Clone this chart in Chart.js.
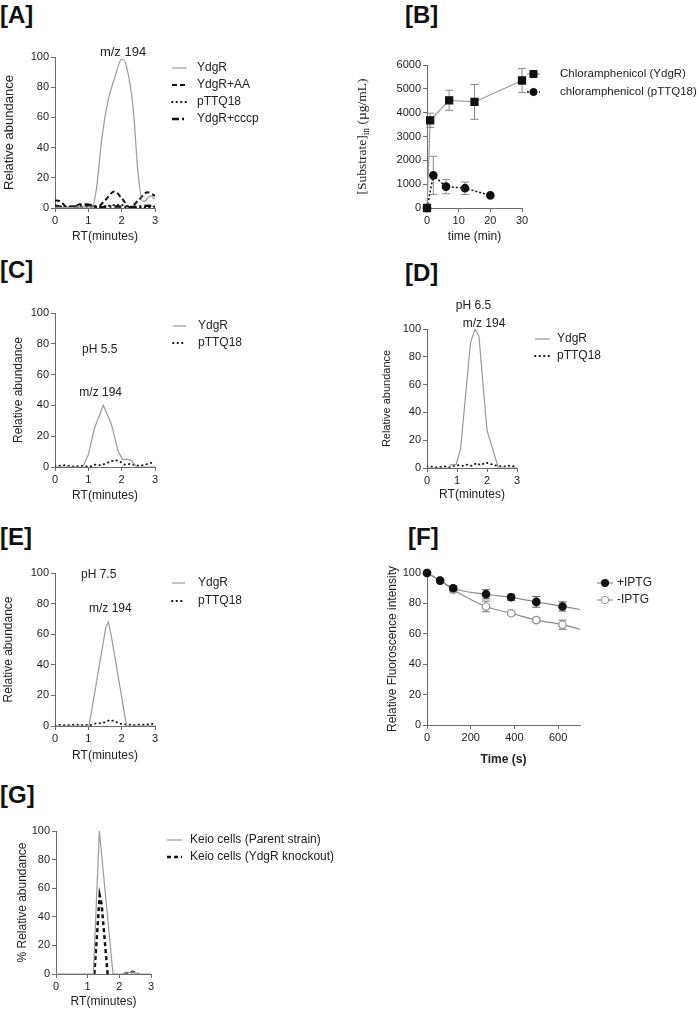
<!DOCTYPE html>
<html>
<head>
<meta charset="utf-8">
<script src="https://cdn.jsdelivr.net/npm/chart.js@4.4.1/dist/chart.umd.min.js"></script>
<style>
  body { margin: 0; background: #fff; width: 700px; height: 1010px; position: relative; overflow: hidden;
         font-family: "Liberation Sans", Arial, sans-serif; }
  canvas { position: absolute; left: 0; top: 0; }
  .tag { position: absolute; font-weight: bold; font-size: 24px; line-height: 24px; color: #111; }
</style>
</head>
<body>
<div class="tag" style="left:0px;top:3px">[A]</div>
<div class="tag" style="left:405px;top:3px">[B]</div>
<div class="tag" style="left:0px;top:258px">[C]</div>
<div class="tag" style="left:405px;top:261px">[D]</div>
<div class="tag" style="left:0px;top:525px">[E]</div>
<div class="tag" style="left:408px;top:525px">[F]</div>
<div class="tag" style="left:0px;top:783px">[G]</div>

<canvas id="chartA" width="700" height="1010"></canvas>
<canvas id="chartB" width="700" height="1010"></canvas>
<canvas id="chartC" width="700" height="1010"></canvas>
<canvas id="chartD" width="700" height="1010"></canvas>
<canvas id="chartE" width="700" height="1010"></canvas>
<canvas id="chartF" width="700" height="1010"></canvas>
<canvas id="chartG" width="700" height="1010"></canvas>

<script>
// ---- panel A: m/z 194 chromatograms
const aYdgRRt = [0, 0.3, 0.6, 0.9, 1.12, 1.25, 1.4, 1.57, 1.8, 2.0, 2.13, 2.35, 2.48, 2.62, 2.72, 2.85, 3.0];
const aYdgR   = [0.5, 0.3, 0.5, 0.8, 0.5, 14, 45, 69, 87, 98.5, 95, 65, 26, 4.5, 5, 8, 6];
const aAART   = [0, 0.15, 0.35, 0.55, 0.75, 0.95, 1.1, 1.25, 1.5, 1.78, 2.0, 2.25, 2.5, 2.78, 3.0];
const aAA     = [5, 4.5, 1, 1, 2.5, 2.5, 2, 0.5, 5, 11, 6.5, 0.5, 5, 10.5, 8];
const aPtRt   = [0, 0.3, 0.6, 0.9, 1.2, 1.5, 1.8, 2.0, 2.2, 2.5, 2.8, 3.0];
const aPttq   = [0.3, 0.5, 0.3, 0.8, 0.5, 1, 2, 2, 1, 0.5, 0.5, 1];
const aCcRt   = [0, 0.3, 0.6, 0.9, 1.1, 1.3, 1.6, 1.9, 2.2, 2.5, 2.8, 3.0];
const aCccp   = [1.5, 0.5, 1, 1.5, 2, 0.5, 1, 1, 0.5, 1, 1.5, 1];

// ---- panel B: uptake time course
const bYdgRTime = [0, 1, 7, 15, 30];
const bYdgR     = [0, 3680, 4520, 4450, 5350];
const bYdgRErr  = [0, 300, 420, 730, 500];
const bPtTime   = [0, 2, 6, 12, 20];
const bPttq     = [0, 1370, 900, 830, 530];
const bPttqErr  = [0, 800, 300, 260, 0];

// ---- panel C: pH 5.5
const cYdgRRt = [0, 0.83, 1.0, 1.18, 1.45, 1.69, 1.89, 2.02, 2.2, 2.3, 2.45, 3.0];
const cYdgR   = [0, 0, 8, 25, 40, 28, 10.5, 5, 5, 4, 0, 0];
const noiseRt = [0, 0.15, 0.3, 0.45, 0.6, 0.75, 0.9, 1.05, 1.2, 1.35, 1.5, 1.65, 1.8, 1.95, 2.1, 2.25, 2.4, 2.55, 2.7, 2.85, 3.0];
const cPttq   = [0.5, 0.8, 1.2, 0.5, 0.3, 0.8, 0.5, 0.3, 1.5, 1.2, 2, 3.5, 4.5, 3.5, 1.5, 2, 1.2, 0.8, 1.5, 2.5, 3];

// ---- panel D: pH 6.5
const dYdgRRt = [0, 0.7, 0.8, 0.97, 1.12, 1.45, 1.6, 1.73, 2.0, 2.38, 3.0];
const dYdgR   = [0, 0, 2.5, 2.5, 14, 90, 100, 95, 27, 0, 0];
const dPttq   = [0.5, 1, 0.5, 0.8, 1.2, 0.5, 1.5, 2, 1.5, 2.5, 1.5, 3.5, 2, 4, 3, 2, 1.5, 1, 1.8, 1, 2.5];

// ---- panel E: pH 7.5
const eYdgRRt = [0, 1.02, 1.1, 1.52, 1.6, 1.68, 2.07, 2.15, 3.0];
const eYdgR   = [0, 0, 10, 64, 68, 60, 10, 0, 0];
const ePttq   = [0.3, 0.8, 0.5, 0.5, 1, 0.5, 0.8, 0.5, 1.5, 1.8, 2.5, 4, 3, 1.5, 1, 0.8, 0.5, 1, 0.8, 1.2, 1.5];

// ---- panel F: fluorescence
const fTime       = [0, 60, 120, 270, 385, 500, 620];
const fPlus       = [100, 95, 90, 86, 84, 81, 78];
const fPlusErr    = [0, 0, 1.5, 3, 2, 3.5, 3];
const fMinus      = [100, 95, 89, 78, 73.5, 69, 66];
const fMinusErr   = [0, 0, 1.5, 3.5, 1, 1.5, 3];
const fFitEndTime = 700;
const fPlusFitEnd = 76;
const fMinusFitEnd = 63;

// ---- panel G: Keio cells
const gParentRt = [0, 1.18, 1.37, 1.8, 2.1, 2.3, 2.42, 2.6, 3.0];
const gParent   = [0, 0, 100, 0, 0, 1, 1.5, 0, 0];
const gKoRt     = [1.21, 1.38, 1.44, 1.63, 1.64, 2.15, 2.3, 2.42, 2.5, 2.6];
const gKo       = [0, 55, 49, 0, null, 0, 0.8, 1.6, 1, 0];

const W = 700, H = 1010;
const AXIS = '#6b6b6b';
const GRAY = '#9a9a9a';
const FONT = '"Liberation Sans", Arial, sans-serif';

Chart.defaults.font.family = FONT;
Chart.defaults.color = '#222';

function pts(xs, ys) {
  return xs.map((x, i) => ({ x: x, y: ys[i] }));
}

// error bars drawn from dataset.errors through the scales
const errorBars = {
  id: 'errorBars',
  beforeDatasetsDraw(chart) {
    const { ctx, scales: { x, y } } = chart;
    chart.data.datasets.forEach(ds => {
      if (!ds.errors) return;
      ctx.save();
      ctx.strokeStyle = ds.errorColor || '#666';
      ctx.lineWidth = 1;
      ds.data.forEach((p, i) => {
        const e = ds.errors[i];
        if (!e) return;
        const px = x.getPixelForValue(p.x);
        const top = y.getPixelForValue(p.y + e);
        const bot = y.getPixelForValue(p.y - e);
        ctx.beginPath();
        ctx.moveTo(px, top); ctx.lineTo(px, bot);
        ctx.moveTo(px - 4, top); ctx.lineTo(px + 4, top);
        ctx.moveTo(px - 4, bot); ctx.lineTo(px + 4, bot);
        ctx.stroke();
      });
      ctx.restore();
    });
  }
};

// small text notes placed in data units
const notes = {
  id: 'notes',
  afterDatasetsDraw(chart, args, opts) {
    if (!opts.items) return;
    const { ctx, scales: { x, y } } = chart;
    ctx.save();
    ctx.fillStyle = '#222';
    ctx.textAlign = 'center';
    ctx.textBaseline = 'middle';
    ctx.font = (opts.size || 12) + 'px ' + FONT;
    opts.items.forEach(n => ctx.fillText(n.text, x.getPixelForValue(n.x), y.getPixelForValue(n.y)));
    ctx.restore();
  }
};

// legend to the right of the plot, like the Prism one
const sideLegend = {
  id: 'sideLegend',
  afterDraw(chart, args, opts) {
    if (!opts.items) return;
    const ctx = chart.ctx;
    opts.items.forEach((it, i) => {
      const ds = chart.data.datasets[it.ds];
      const yy = opts.y + i * opts.dy;
      ctx.save();
      ctx.strokeStyle = ds.borderColor;
      ctx.lineWidth = ds.borderWidth;
      ctx.lineCap = ds.borderCapStyle || 'butt';
      ctx.setLineDash(ds.borderDash || []);
      ctx.beginPath();
      ctx.moveTo(opts.x, yy);
      ctx.lineTo(opts.x + opts.len, yy);
      ctx.stroke();
      if (it.r) {
        ctx.setLineDash([]);
        ctx.fillStyle = ds.pointBackgroundColor;
        ctx.strokeStyle = ds.pointBorderColor;
        ctx.lineWidth = 1;
        Chart.helpers.drawPoint(ctx, { pointStyle: ds.pointStyle, radius: it.r, rotation: 0, borderWidth: 1 },
          opts.x + opts.len / 2, yy);
      }
      ctx.fillStyle = '#222';
      ctx.font = (opts.size || 12) + 'px ' + FONT;
      ctx.textAlign = 'left';
      ctx.textBaseline = 'middle';
      ctx.fillText(it.text, opts.textX, yy);
      ctx.restore();
    });
  }
};

// serif y title with a subscript for panel B
const richYTitle = {
  id: 'richYTitle',
  afterDraw(chart, args, opts) {
    if (!opts.x) return;
    const ctx = chart.ctx;
    const cy = (chart.chartArea.top + chart.chartArea.bottom) / 2;
    const big = '13.5px "Liberation Serif", "Times New Roman", serif';
    const small = '9.5px "Liberation Serif", "Times New Roman", serif';
    ctx.save();
    ctx.translate(opts.x, cy);
    ctx.rotate(-Math.PI / 2);
    ctx.fillStyle = '#222';
    ctx.textBaseline = 'middle';
    ctx.font = big;
    const w1 = ctx.measureText(opts.main).width;
    const w3 = ctx.measureText(opts.tail).width;
    ctx.font = small;
    const w2 = ctx.measureText(opts.sub).width;
    let x0 = -(w1 + w2 + w3) / 2;
    ctx.font = big;
    ctx.fillText(opts.main, x0, 0);
    ctx.font = small;
    ctx.fillText(opts.sub, x0 + w1, 4);
    ctx.font = big;
    ctx.fillText(opts.tail, x0 + w1 + w2, 0);
    ctx.restore();
  }
};

Chart.register(errorBars, notes, sideLegend, richYTitle);

function axis(a, dir, size) {
  return {
    type: 'linear',
    min: a.min,
    max: a.max,
    afterFit: s => { if (dir === 'x') s.height = size; else s.width = size; },
    border: { display: true, color: AXIS, width: 1 },
    grid: { drawOnChartArea: false, drawTicks: true, tickLength: 4, color: AXIS },
    ticks: {
      stepSize: a.step, includeBounds: false, autoSkip: false, maxRotation: 0, padding: 2,
      font: { size: 11 }, color: '#222', callback: v => String(v)
    },
    title: {
      display: !!a.title, text: a.title, padding: 0, color: '#222',
      font: { size: a.titleSize || 12, weight: a.bold ? 'bold' : 'normal' }
    }
  };
}

function makePanel(id, box, sc, datasets, plugins) {
  return new Chart(document.getElementById(id), {
    type: 'line',
    data: { datasets: datasets },
    options: {
      responsive: false,
      animation: false,
      events: [],
      layout: { padding: { left: box.left - box.yW, top: box.top, right: W - box.right, bottom: H - box.bottom - box.xH } },
      elements: { point: { radius: 0, hoverRadius: 0 }, line: { tension: 0 } },
      plugins: Object.assign({ legend: { display: false }, tooltip: { enabled: false } }, plugins),
      scales: { x: axis(sc.x, 'x', box.xH), y: axis(sc.y, 'y', box.yW) }
    }
  });
}

const solidGray = { borderColor: GRAY, borderWidth: 1.2 };
const dotted = { borderColor: '#111', borderWidth: 1.8, borderDash: [0.5, 4], borderCapStyle: 'round' };
const rtAxis = { min: 0, max: 3, step: 1, title: 'RT(minutes)' };

// A
makePanel('chartA', { left: 55, top: 57, right: 155, bottom: 208, yW: 53, xH: 36 },
  { x: rtAxis, y: { min: 0, max: 100, step: 20, title: 'Relative abundance', titleSize: 13 } },
  [
    Object.assign({ data: pts(aYdgRRt, aYdgR), cubicInterpolationMode: 'monotone' }, solidGray),
    { data: pts(aAART, aAA), borderColor: '#111', borderWidth: 2, borderDash: [5, 3], cubicInterpolationMode: 'monotone' },
    Object.assign({ data: pts(aPtRt, aPttq), cubicInterpolationMode: 'monotone' }, dotted),
    { data: pts(aCcRt, aCccp), borderColor: '#111', borderWidth: 2.5, borderDash: [7, 3, 2, 3], cubicInterpolationMode: 'monotone' }
  ],
  {
    notes: { size: 13, items: [{ text: 'm/z 194', x: 2.04, y: 103 }] },
    sideLegend: { x: 172, len: 15, textX: 197, y: 68, dy: 17,
      items: [{ text: 'YdgR', ds: 0 }, { text: 'YdgR+AA', ds: 1 }, { text: 'pTTQ18', ds: 2 }, { text: 'YdgR+cccp', ds: 3 }] }
  });

// B
makePanel('chartB', { left: 427, top: 65, right: 522, bottom: 208, yW: 60, xH: 36 },
  { x: { min: 0, max: 30, step: 10, title: 'time (min)' }, y: { min: 0, max: 6000, step: 1000 } },
  [
    { data: pts(bYdgRTime, bYdgR), errors: bYdgRErr, errorColor: '#8a8a8a', borderColor: GRAY, borderWidth: 1.2, clip: false,
      pointStyle: 'rect', pointRadius: 5, pointBackgroundColor: '#111', pointBorderColor: '#111' },
    { data: pts(bPtTime, bPttq), errors: bPttqErr, errorColor: '#8a8a8a', borderColor: '#111', borderWidth: 1.5, clip: false,
      borderDash: [2, 2], pointStyle: 'circle', pointRadius: 3.6, pointBackgroundColor: '#111', pointBorderColor: '#111' }
  ],
  {
    richYTitle: { x: 362, main: '[Substrate]', sub: 'in', tail: ' (\u00b5g/mL)' },
    sideLegend: { x: 527, len: 13, textX: 560, y: 74, dy: 18, size: 11.5,
      items: [{ text: 'Chloramphenicol (YdgR)', ds: 0, r: 5 }, { text: 'chloramphenicol (pTTQ18)', ds: 1, r: 3.6 }] }
  });

// C
makePanel('chartC', { left: 55, top: 313, right: 155, bottom: 467, yW: 44, xH: 36 },
  { x: rtAxis, y: { min: 0, max: 100, step: 20, title: 'Relative abundance' } },
  [
    Object.assign({ data: pts(cYdgRRt, cYdgR) }, solidGray),
    Object.assign({ data: pts(noiseRt, cPttq) }, dotted)
  ],
  {
    notes: { size: 12, items: [{ text: 'pH 5.5', x: 1.34, y: 76 }, { text: 'm/z 194', x: 1.37, y: 48 }] },
    sideLegend: { x: 173, len: 13, textX: 198, y: 326, dy: 17, items: [{ text: 'YdgR', ds: 0 }, { text: 'pTTQ18', ds: 1 }] }
  });

// D
makePanel('chartD', { left: 427, top: 329, right: 517, bottom: 468, yW: 47, xH: 34 },
  { x: rtAxis, y: { min: 0, max: 100, step: 20, title: 'Relative abundance', titleSize: 11 } },
  [
    Object.assign({ data: pts(dYdgRRt, dYdgR) }, solidGray),
    Object.assign({ data: pts(noiseRt, dPttq) }, dotted)
  ],
  {
    notes: { size: 12, items: [{ text: 'pH 6.5', x: 1.55, y: 117 }, { text: 'm/z 194', x: 1.9, y: 104 }] },
    sideLegend: { x: 535, len: 15, textX: 557, y: 339, dy: 17, items: [{ text: 'YdgR', ds: 0 }, { text: 'pTTQ18', ds: 1 }] }
  });

// E
makePanel('chartE', { left: 55, top: 573, right: 155, bottom: 726, yW: 54, xH: 37 },
  { x: rtAxis, y: { min: 0, max: 100, step: 20, title: 'Relative abundance' } },
  [
    Object.assign({ data: pts(eYdgRRt, eYdgR) }, solidGray),
    Object.assign({ data: pts(noiseRt, ePttq) }, dotted)
  ],
  {
    notes: { size: 12, items: [{ text: 'pH 7.5', x: 1.31, y: 99 }, { text: 'm/z 194', x: 1.66, y: 77 }] },
    sideLegend: { x: 172, len: 13, textX: 198, y: 583, dy: 18, items: [{ text: 'YdgR', ds: 0 }, { text: 'pTTQ18', ds: 1 }] }
  });

// F
const fMarkerR = fTime.map(() => 3.7).concat([0]);
makePanel('chartF', { left: 427, top: 573, right: 580, bottom: 725, yW: 42, xH: 42 },
  { x: { min: 0, max: 700, step: 200, title: 'Time (s)', bold: true },
    y: { min: 0, max: 100, step: 20, title: 'Relative Fluoroscence intensity' } },
  [
    { data: pts(fTime.concat([fFitEndTime]), fPlus.concat([fPlusFitEnd])), errors: fPlusErr, errorColor: '#555',
      borderColor: '#8c8c8c', borderWidth: 1.2, cubicInterpolationMode: 'monotone', clip: false,
      pointStyle: 'circle', pointRadius: fMarkerR, pointBackgroundColor: '#111', pointBorderColor: '#111' },
    { data: pts(fTime.concat([fFitEndTime]), fMinus.concat([fMinusFitEnd])), errors: fMinusErr, errorColor: '#777',
      borderColor: '#8c8c8c', borderWidth: 1.2, cubicInterpolationMode: 'monotone', clip: false,
      pointStyle: 'circle', pointRadius: fMarkerR, pointBackgroundColor: '#fff', pointBorderColor: '#8c8c8c', pointBorderWidth: 1.2 }
  ],
  {
    sideLegend: { x: 597, len: 16, textX: 617, y: 583, dy: 17,
      items: [{ text: '+IPTG', ds: 0, r: 3.7 }, { text: '-IPTG', ds: 1, r: 3.7 }] }
  });

// G
makePanel('chartG', { left: 56, top: 831, right: 151, bottom: 974, yW: 41, xH: 35 },
  { x: rtAxis, y: { min: 0, max: 100, step: 20, title: '% Relative abundance' } },
  [
    Object.assign({ data: pts(gParentRt, gParent) }, solidGray),
    { data: pts(gKoRt, gKo), borderColor: '#111', borderWidth: 2.5, borderDash: [4, 3], spanGaps: false }
  ],
  {
    sideLegend: { x: 167, len: 15, textX: 190, y: 840, dy: 17,
      items: [{ text: 'Keio cells (Parent strain)', ds: 0 }, { text: 'Keio cells (YdgR knockout)', ds: 1 }] }
  });
</script>
</body>
</html>
